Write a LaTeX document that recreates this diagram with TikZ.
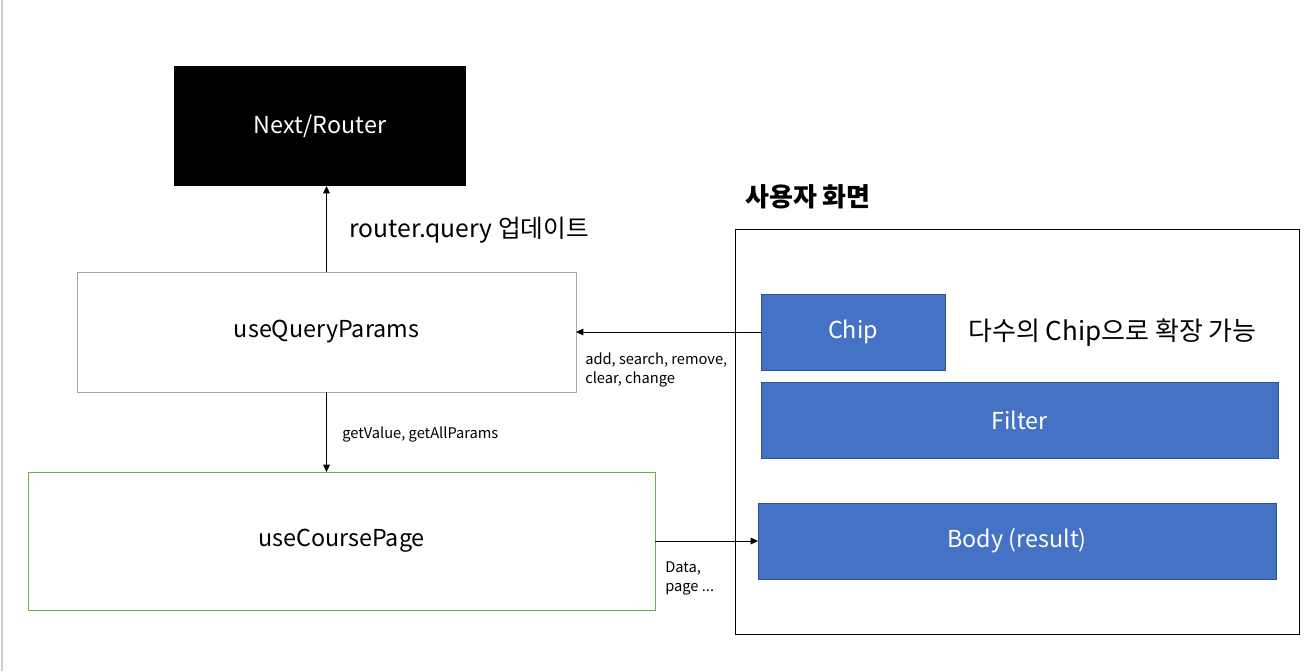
\documentclass[tikz,border=0pt]{standalone}
\usepackage{fontspec}
\setmainfont{Noto Sans CJK KR}
\usetikzlibrary{arrows.meta}
\definecolor{blueF}{HTML}{4472C4}
\definecolor{blueD}{HTML}{2F528F}
\definecolor{greenB}{HTML}{70AD47}
\definecolor{grayB}{HTML}{A6A6A6}
\tikzset{
  bx/.style 2 args={rectangle, inner sep=0pt, outer sep=0pt, minimum width=#1*0.75pt, minimum height=#2*0.75pt, line width=0.75pt, align=center},
  bluebox/.style={fill=blueF, draw=blueD, text=white, font=\fontsize{17.5}{21}\selectfont},
  hookbox/.style={fill=white, font=\fontsize{17.5}{21}\selectfont},
  conn/.style={line width=0.75pt, -{Triangle[length=5.5pt,width=5pt]}},
  small/.style={font=\fontsize{11}{14.25}\selectfont, align=left, inner sep=0pt, anchor=north west},
  mid/.style={inner sep=0pt, anchor=west}
}
\begin{document}
\begin{tikzpicture}[x=0.75pt,y=-0.75pt]
\useasboundingbox[fill=white] (0,0) rectangle (1305,671);
\draw[draw=gray!40, line width=1.5pt] (2,0) -- (2,671);
\node[bx={292}{120}, fill=black, text=white, font=\fontsize{17.5}{21}\selectfont] (next) at (320,126) {\raisebox{-1.5pt}{Next/Router}};
\node[bx={499}{120}, hookbox, draw=grayB] (qp) at (326.5,332) {\raisebox{-1.5pt}{useQueryParams}};
\node[bx={627}{138}, hookbox, draw=greenB] (cp) at (341.5,541) {\raisebox{-1.5pt}{useCoursePage}};
\node[bx={564}{405}, draw=black] (screen) at (1017,431.5) {};
\node[font=\bfseries\fontsize{19.5}{23}\selectfont, inner sep=0pt, anchor=west] (title) at (745,197) {사용자 화면};
\node[bx={184}{76}, bluebox] (chip) at (853,332) {\raisebox{-1.5pt}{Chip}};
\node[mid, font=\fontsize{19.5}{23}\selectfont] (multi) at (968,333) {다수의 Chip으로 확장 가능};
\node[bx={517}{76}, bluebox] (filter) at (1019.5,420) {\raisebox{-1.5pt}{Filter}};
\node[bx={518}{76}, bluebox] (body) at (1017,541) {\raisebox{-1.5pt}{Body (result)}};
\draw[conn] (qp.north) -- (qp.north |- next.south);
\node[mid, font=\fontsize{18.5}{22}\selectfont] (rq) at (349,230) {router.query 업데이트};
\draw[conn] (chip.west) -- (chip.west -| qp.east);
\node[small] (ops) at (585,353) {add, search, remove,\\clear, change};
\draw[conn] (qp.south) -- (qp.south |- cp.north);
\node[small] (get) at (342,427) {getValue, getAllParams};
\draw[conn] (cp.east) -- (cp.east -| body.west);
\node[small] (data) at (665,561) {Data,\\page ...};
\end{tikzpicture}
\end{document}
